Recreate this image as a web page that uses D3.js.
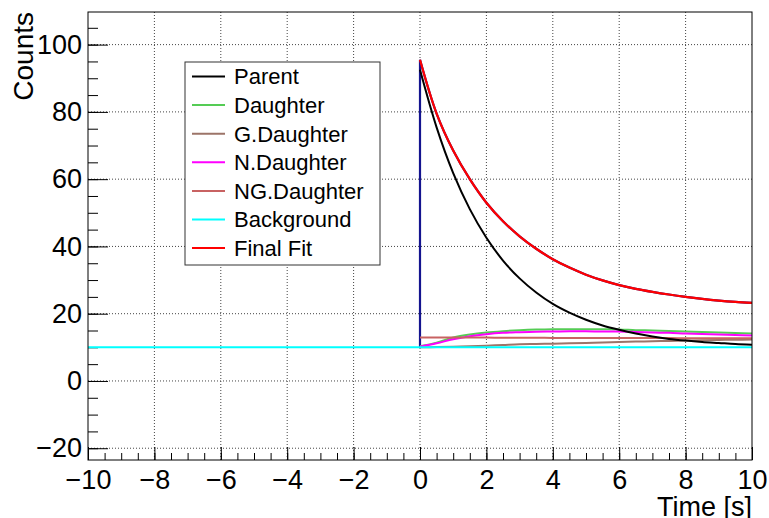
<!DOCTYPE html>
<meta charset="utf-8">
<style>
body { margin: 0; background: #fff; }
text { font-family: "Liberation Sans", Arial, sans-serif; fill: #000; }
.grid line { stroke: #444; stroke-width: 1; stroke-dasharray: 1,2; }
</style>
<svg width="769" height="518"></svg>
<script src="https://d3js.org/d3.v7.min.js"></script>
<script>

var times = [0, 0.5, 1, 1.5, 2, 2.5, 3, 3.5, 4, 4.5, 5, 5.5, 6, 6.5, 7, 7.5, 8, 8.5, 9, 9.5, 10];

var parent      = [92.5, 75.4, 61.8, 51.1, 42.6, 35.8, 30.5, 26.3, 22.9, 20.3, 18.2, 16.5, 15.2, 14.1, 13.2, 12.5, 12.0, 11.6, 11.3, 11.0, 10.8];
var daughter    = [10.3, 11.4, 12.9, 13.8, 14.4, 14.8, 15.1, 15.3, 15.4, 15.4, 15.4, 15.35, 15.3, 15.1, 15.0, 14.85, 14.7, 14.55, 14.4, 14.25, 14.1];
var gDaughter   = [10.0, 10.1, 10.2, 10.35, 10.5, 10.7, 10.9, 11.0, 11.1, 11.2, 11.3, 11.45, 11.6, 11.7, 11.8, 11.9, 12.0, 12.1, 12.2, 12.25, 12.3];
var nDaughter   = [10.2, 11.2, 12.4, 13.3, 13.9, 14.3, 14.5, 14.65, 14.7, 14.75, 14.75, 14.7, 14.7, 14.55, 14.4, 14.3, 14.1, 13.95, 13.8, 13.65, 13.5];
var ngDaughter  = [12.9, 12.9, 12.9, 12.9, 12.9, 12.85, 12.85, 12.85, 12.8, 12.8, 12.8, 12.8, 12.8, 12.75, 12.75, 12.75, 12.7, 12.7, 12.7, 12.7, 12.7];
var finalFit    = [95.5, 79.5, 68.5, 60.0, 53.0, 47.5, 43.0, 39.3, 36.2, 33.7, 31.6, 29.9, 28.5, 27.4, 26.5, 25.7, 25.0, 24.4, 23.9, 23.5, 23.2];
var dataCounts  = [95.5, 79.5, 68.5, 60.0, 53.0, 47.5, 43.0, 39.3, 36.2, 33.7, 31.6, 29.9, 28.5, 27.4, 26.5, 25.7, 25.0, 24.4, 23.9, 23.5, 23.2];

var bgTimes  = [-10, 10];
var bgCounts = [10, 10];

var xTicks = [-10, -8, -6, -4, -2, 0, 2, 4, 6, 8, 10];
var yTicks = [-20, 0, 20, 40, 60, 80, 100];

var legendNames  = ["Parent", "Daughter", "G.Daughter", "N.Daughter", "NG.Daughter", "Background", "Final Fit"];
var legendColors = ["#000000", "#55cc55", "#9c7468", "#ff00ff", "#c86262", "#00ffff", "#ff0000"];

var svg = d3.select("svg"),
    fLeft = 88, fRight = 752, fTop = 12, fBottom = 460;

var x = d3.scaleLinear().domain([-10, 10]).range([fLeft, fRight]);
var y = d3.scaleLinear().domain([-23.5, 109.7]).range([fBottom, fTop]);

// grid
var grid = svg.append("g").attr("class", "grid");
grid.selectAll(".gx").data(xTicks.slice(1, -1)).enter().append("line")
    .attr("x1", function(d) { return x(d); }).attr("x2", function(d) { return x(d); })
    .attr("y1", fTop).attr("y2", fBottom);
grid.selectAll(".gy").data(yTicks).enter().append("line")
    .attr("y1", function(d) { return y(d); }).attr("y2", function(d) { return y(d); })
    .attr("x1", fLeft).attr("x2", fRight);

// axes with ROOT style inside ticks
var xMinor = d3.range(-20, 21).map(function(i) { return i / 2; });
var yMinor = d3.range(-4, 22).map(function(i) { return i * 5; }).filter(function(v) { return v > -23.5 && v < 109.7; });

var xAxis = svg.append("g").attr("transform", "translate(0," + fBottom + ")");
xAxis.call(d3.axisBottom(x).tickValues(xMinor).tickSize(-7).tickFormat(""));
xAxis.append("g").call(d3.axisBottom(x).tickValues(xTicks).tickSize(-13).tickPadding(17).tickFormat(d3.format("d")));

var yAxis = svg.append("g").attr("transform", "translate(" + fLeft + ",0)");
yAxis.call(d3.axisLeft(y).tickValues(yMinor).tickSize(-10).tickFormat(""));
yAxis.append("g").call(d3.axisLeft(y).tickValues(yTicks).tickSize(-20).tickPadding(26).tickFormat(d3.format("d")));

svg.selectAll(".domain").remove();
svg.selectAll(".tick line").attr("stroke", "#000").attr("stroke-width", 1);
svg.selectAll(".tick text").attr("font-size", 27).attr("font-family", "Liberation Sans, Arial, sans-serif").attr("fill", "#000");
yAxis.selectAll(".tick text").attr("x", -6);
xAxis.selectAll(".tick text").attr("dy", "0.45em");

// curves
var line = d3.line()
    .x(function(d) { return x(d[0]); })
    .y(function(d) { return y(d[1]); })
    .curve(d3.curveCatmullRom);
var straight = d3.line()
    .x(function(d) { return x(d[0]); })
    .y(function(d) { return y(d[1]); });

function pairs(ts, vs) { return ts.map(function(t, i) { return [t, vs[i]]; }); }

var plot = svg.append("g");

// data histogram (blue): jump from background at t = 0
plot.append("path")
    .attr("d", straight([[0, bgCounts[0]], [0, dataCounts[0]]]) + line(pairs(times, dataCounts)).replace(/^M/, "L"))
    .attr("fill", "none").attr("stroke", "#14148f").attr("stroke-width", 2.2);

var series = [
  { v: daughter,   c: legendColors[1] },
  { v: gDaughter,  c: legendColors[2] },
  { v: nDaughter,  c: legendColors[3] },
  { v: ngDaughter, c: legendColors[4] },
  { v: parent,     c: legendColors[0] }
];
series.forEach(function(s) {
  plot.append("path").attr("d", line(pairs(times, s.v)))
      .attr("fill", "none").attr("stroke", s.c).attr("stroke-width", 2);
});

plot.append("path").attr("d", straight(pairs(bgTimes, bgCounts)))
    .attr("fill", "none").attr("stroke", legendColors[5]).attr("stroke-width", 2);

plot.append("path").attr("d", line(pairs(times, finalFit)))
    .attr("fill", "none").attr("stroke", legendColors[6]).attr("stroke-width", 2.2);

// frame
svg.append("rect").attr("x", fLeft).attr("y", fTop)
    .attr("width", fRight - fLeft).attr("height", fBottom - fTop)
    .attr("fill", "none").attr("stroke", "#000").attr("stroke-width", 1);

// axis titles
svg.append("text").attr("x", 752).attr("y", 516).attr("text-anchor", "end")
    .attr("font-size", 27).text("Time [s]");
svg.append("text").attr("transform", "translate(33,12) rotate(-90)")
    .attr("text-anchor", "end").attr("font-size", 28).text("Counts");

// legend
var legend = svg.append("g").attr("transform", "translate(185,62)");
legend.append("rect").attr("width", 195).attr("height", 203)
    .attr("fill", "#fff").attr("stroke", "#333").attr("stroke-width", 1);
var entry = legend.selectAll(".entry").data(legendNames).enter().append("g")
    .attr("transform", function(d, i) { return "translate(0," + (14.5 + i * 28.6) + ")"; });
entry.append("line").attr("x1", 7).attr("x2", 40)
    .attr("stroke", function(d, i) { return legendColors[i]; }).attr("stroke-width", 2);
entry.append("text").attr("x", 49).attr("dy", "0.36em").attr("font-size", 22)
    .text(function(d) { return d; });

</script>
